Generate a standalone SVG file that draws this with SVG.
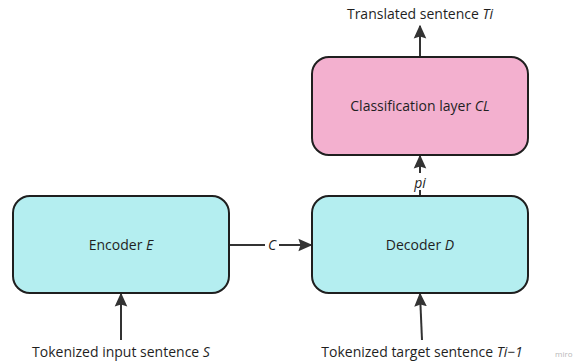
<svg xmlns="http://www.w3.org/2000/svg" width="583" height="363" viewBox="0 0 583 363">
<style>
.box{stroke:#1f1f1f;stroke-width:2}
.cyan{fill:#b4eef0}
.pink{fill:#f3b0cf}
.lbl{font-family:"Open Sans","Noto Sans",sans-serif;font-size:14px;fill:#1f1f1f;text-anchor:middle}
.edge{stroke:#333;stroke-width:2;fill:none}
.mir{font-family:"Open Sans",sans-serif;font-size:8px;fill:#b8b8b8}
</style>
<defs>
<marker id="ah" viewBox="0 0 10 10" refX="9" refY="5" markerWidth="7" markerHeight="7" orient="auto" markerUnits="strokeWidth">
<path d="M0,0.5 L10,5 L0,9.5 L1.5,5 z" fill="#333"/>
</marker>
</defs>
<rect width="583" height="363" fill="#fff"/>
<g id="connectors">
<line class="edge" x1="420" y1="57" x2="420" y2="26" marker-end="url(#ah)"/>
<line class="edge" x1="420" y1="196" x2="420" y2="190"/>
<line class="edge" x1="420" y1="173" x2="420" y2="156" marker-end="url(#ah)"/>
<text class="lbl" x="420" y="188" font-style="italic">pi</text>
<line class="edge" x1="230" y1="245" x2="265" y2="245"/>
<line class="edge" x1="279" y1="245" x2="311" y2="245" marker-end="url(#ah)"/>
<text class="lbl" x="272" y="250" font-style="italic">C</text>
<line class="edge" x1="121" y1="340" x2="121" y2="294" marker-end="url(#ah)"/>
<line class="edge" x1="422" y1="340" x2="420" y2="294" marker-end="url(#ah)"/>
</g>
<g id="encoder">
<rect class="box cyan" x="13" y="196" width="216" height="97" rx="17"/>
<text class="lbl" x="121" y="250">Encoder <tspan font-style="italic">E</tspan></text>
</g>
<g id="decoder">
<rect class="box cyan" x="312" y="196" width="216" height="97" rx="17"/>
<text class="lbl" x="420" y="250">Decoder <tspan font-style="italic">D</tspan></text>
</g>
<g id="classifier">
<rect class="box pink" x="312" y="57" width="216" height="98" rx="17"/>
<text class="lbl" x="420" y="111">Classification layer <tspan font-style="italic">CL</tspan></text>
</g>
<g id="texts">
<text class="lbl" x="420" y="19">Translated sentence <tspan font-style="italic">Ti</tspan></text>
<text class="lbl" x="121" y="357">Tokenized input sentence <tspan font-style="italic">S</tspan></text>
<text class="lbl" x="422" y="357">Tokenized target sentence <tspan font-style="italic">Ti−1</tspan></text>
<text class="mir" x="555" y="357">miro</text>
</g>
</svg>
